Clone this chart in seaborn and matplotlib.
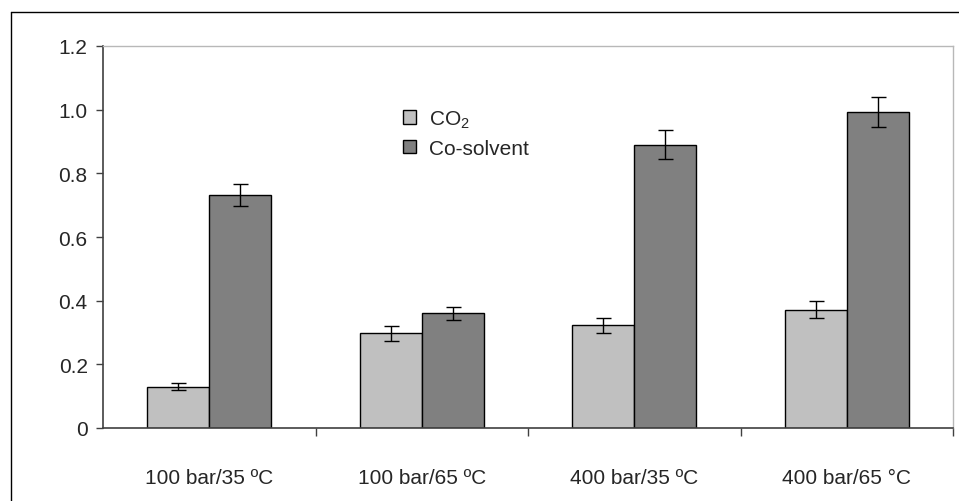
import numpy as np
import pandas as pd
import matplotlib
matplotlib.use("Agg")
import matplotlib.pyplot as plt
import seaborn as sns
from matplotlib.lines import Line2D

categories = ["100 bar/35 ºC", "100 bar/65 ºC", "400 bar/35 ºC", "400 bar/65 °C"]
series = ["CO$_2$", "Co-solvent"]
co2_values = [0.13, 0.297, 0.322, 0.372]
co2_errors = [0.010, 0.023, 0.022, 0.028]
cosolvent_values = [0.732, 0.36, 0.89, 0.992]
cosolvent_errors = [0.035, 0.02, 0.045, 0.048]
y_ticks = [0, 0.2, 0.4, 0.6, 0.8, 1.0, 1.2]
y_tick_labels = ["0", "0.2", "0.4", "0.6", "0.8", "1.0", "1.2"]

sns.set_style("white")
plt.rcParams["font.family"] = ["Liberation Sans", "DejaVu Sans"]
plt.rcParams["mathtext.fontset"] = "custom"
plt.rcParams["mathtext.rm"] = "Liberation Sans"
plt.rcParams["mathtext.default"] = "regular"

df = pd.DataFrame({
    "cat": categories * 2,
    "series": [series[0]] * 4 + [series[1]] * 4,
    "value": co2_values + cosolvent_values,
})

fig = plt.figure(figsize=(9.59, 5.02), dpi=100)
ax = fig.add_axes([103 / 959, 1 - 429 / 502, 850 / 959, 382 / 502])

sns.barplot(data=df, x="cat", y="value", hue="series", order=categories,
            hue_order=series, palette=["#C0C0C0", "#808080"], width=0.585,
            gap=0, errorbar=None, edgecolor="black", linewidth=1.0,
            saturation=1, ax=ax)

# error bars placed at the library-computed bar positions
for container, errs in zip(ax.containers, [co2_errors, cosolvent_errors]):
    for p, e in zip(container.patches, errs):
        xc = p.get_x() + p.get_width() / 2
        ax.errorbar(xc, p.get_height(), yerr=e, fmt="none", ecolor="black",
                    elinewidth=1.0, capsize=5.4, capthick=1.0, zorder=5)

ax.set_xlim(-0.5, 3.5)
ax.set_ylim(0, 1.2)
ax.set_yticks(y_ticks)
ax.set_yticklabels(y_tick_labels)
ax.set_xticks(range(len(categories)))
ax.set_xticklabels(categories)
ax.set_xticks([0.5, 1.5, 2.5, 3.5], minor=True)
ax.tick_params(axis="x", which="major", length=0, pad=29, labelsize=15)
ax.tick_params(axis="x", which="minor", length=6, width=1, color="#404040",
               direction="out", bottom=True)
ax.tick_params(axis="y", length=5, width=1, color="#404040", direction="out",
               left=True, labelsize=15, pad=6)
ax.set_xlabel("")
ax.set_ylabel("")

for s in ["left", "bottom"]:
    ax.spines[s].set_color("#404040")
    ax.spines[s].set_linewidth(1.2)
for s in ["top", "right"]:
    ax.spines[s].set_color("#B8B8B8")
    ax.spines[s].set_linewidth(1.0)

leg = ax.legend(loc="upper left", bbox_to_anchor=(0.353, 0.837), frameon=False,
                handlelength=0.62, handleheight=0.62, handletextpad=0.62,
                labelspacing=0.45, fontsize=15, borderaxespad=0, borderpad=0)
for h in leg.legend_handles:
    h.set_edgecolor("black")
    h.set_linewidth(1.0)

# outer chart frame (left and top edges visible)
fig.add_artist(Line2D([11 / 959, 11 / 959], [0, 1 - 13 / 502],
                      transform=fig.transFigure, color="black", lw=1.0))
fig.add_artist(Line2D([11 / 959, 1], [1 - 13 / 502, 1 - 13 / 502],
                      transform=fig.transFigure, color="black", lw=1.0))

fig.savefig("out.png", dpi=100)
